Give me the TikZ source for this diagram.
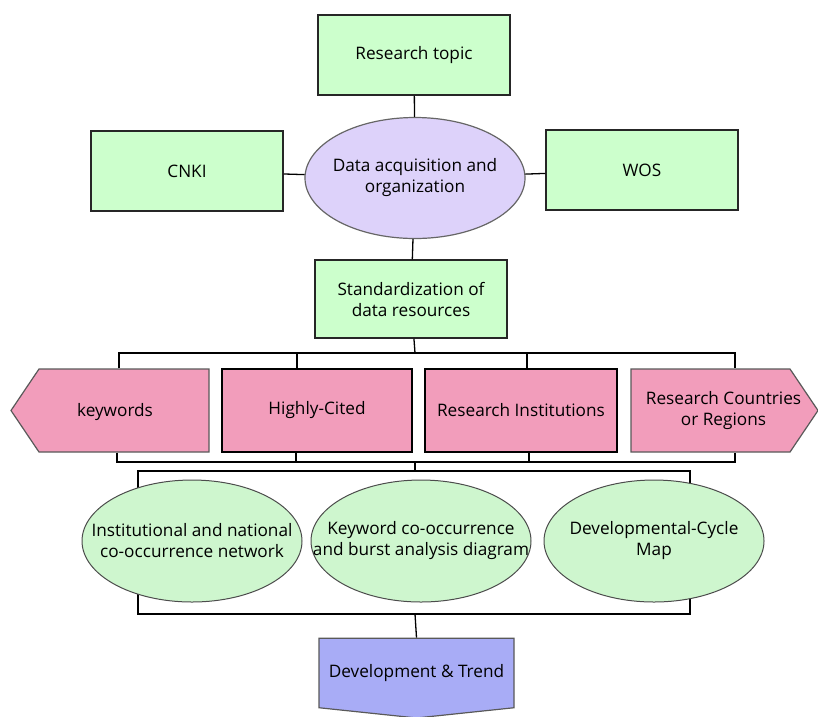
\documentclass[tikz,border=0pt]{standalone}
\usepackage{fontspec}
\setmainfont{Open Sans}
\usetikzlibrary{shapes.geometric,shapes.symbols}
\definecolor{boxgreen}{RGB}{204,255,204}
\definecolor{hubpurple}{RGB}{221,210,250}
\definecolor{pinkfill}{RGB}{242,157,187}
\definecolor{resgreen}{RGB}{206,246,206}
\definecolor{trendblue}{RGB}{168,172,246}
\begin{document}
\begin{tikzpicture}[x=1pt, y=-1pt,
                    line width=1.3pt,
                    font=\fontsize{17.2}{21}\selectfont]
    \tikzstyle{greenbox}=[rectangle,draw=black!85,fill=boxgreen,line width=1.5pt,minimum width=192pt,minimum height=80pt,align=center]
    \tikzstyle{hub}=[ellipse,draw=gray!80!black,fill=hubpurple,line width=1.2pt,minimum width=220pt,minimum height=121pt,inner sep=0pt]
    \tikzstyle{pinkbox}=[rectangle,draw=black,fill=pinkfill,line width=1.8pt,minimum width=190pt,minimum height=83pt,align=center]
    \tikzstyle{pinkarrow}=[signal,signal from=nowhere,draw=gray!70!black,fill=pinkfill,line width=1.2pt,minimum height=83pt,signal pointer angle=112,inner sep=0pt]
    \tikzstyle{result}=[ellipse,draw=gray!60!black,fill=resgreen,line width=1pt,minimum width=220pt,minimum height=122pt,inner sep=0pt]
    \tikzstyle{trend}=[signal,signal from=nowhere,signal to=south,draw=gray!70!black,fill=trendblue,line width=1.2pt,minimum width=195pt,minimum height=79pt,signal pointer angle=168]

    \useasboundingbox (0,0) rectangle (818,716);

    % data sources
    \node[greenbox] (topic) at (414,55) {Research topic};
    \node[hub,label={[align=center]center:Data acquisition and\\organization}] (data) at (415,178) {};
    \node[greenbox] (cnki) at (187,171) {CNKI};
    \node[greenbox] (wos) at (642,170) {WOS};
    \node[greenbox,minimum height=78pt] (std) at (411,299) {Standardization of\\data resources};

    % objects of analysis
    \node[pinkarrow,signal to=west,minimum width=198pt,label={[xshift=-9pt,yshift=-2pt]center:keywords}] (kw) at (124,410.5) {};
    \node[pinkbox] (hc) at (317,410.5) {Highly-Cited};
    \node[pinkbox,minimum width=192pt] (ri) at (521,410.5) {Research Institutions};
    \node[pinkarrow,signal to=east,minimum width=187pt,label={[align=center,xshift=13pt]center:Research Countries\\or Regions}] (crc) at (710.5,410.5) {};

    \coordinate (hub1) at (415,353);
    \coordinate (s1) at (119,353);
    \coordinate (s2) at (297,353);
    \coordinate (s3) at (527,353);
    \coordinate (s4) at (735,353);
    \coordinate (hub2) at (415,462);
    \coordinate (b1) at (117,462);
    \coordinate (b2) at (296,462);
    \coordinate (b3) at (529,462);
    \coordinate (b4) at (735,462);
    \coordinate (hub3) at (415,471);
    \coordinate (hub4) at (415,614);
    \coordinate (fr1) at (138,471);
    \coordinate (fr2) at (690,614);

    \draw (fr1) rectangle (fr2);

    % results
    \node[result,label={[align=center]center:Institutional and national\\co-occurrence network}] (net) at (192,541) {};
    \node[result,label={[align=center]center:Keyword co-occurrence\\and burst analysis diagram}] (burst) at (421,541) {};
    \node[result,label={[align=center]center:Developmental-Cycle\\Map}] (cycle) at (654,541) {};
    \node[trend] (dev) at (416.5,673) {Development \& Trend};

    \draw (topic) -- (data);
    \draw (cnki) -- (data);
    \draw (data) -- (wos);
    \draw (data) -- (std);
    \draw (std) -- (hub1);
    \draw (kw.north -| s1) |- (s4) -- (crc.north -| s4);
    \draw (hc.north -| s2) -- (s2);
    \draw (ri.north -| s3) -- (s3);
    \draw (kw.south -| b1) |- (b4) -- (crc.south -| b4);
    \draw (hc.south -| b2) -- (b2);
    \draw (ri.south -| b3) -- (b3);
    \draw (hub2) -- (hub3);
    \draw (hub4) -- (dev.north);
\end{tikzpicture}
\end{document}
